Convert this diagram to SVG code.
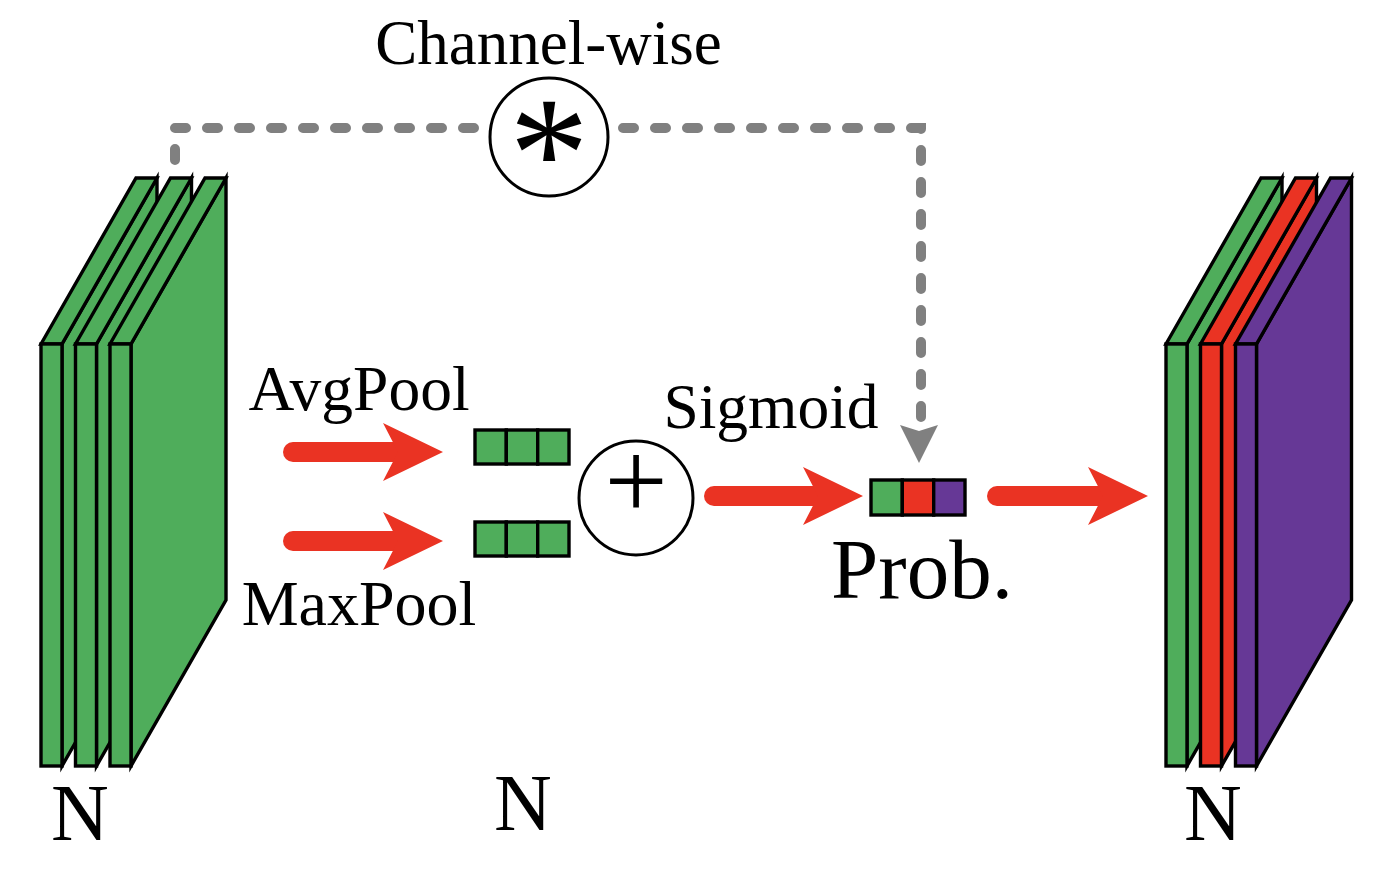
<svg xmlns="http://www.w3.org/2000/svg" width="1384" height="874" viewBox="0 0 1384 874">
<style>
.g{fill:#4FAD5B}.r{fill:#EA3323}.p{fill:#663896}
.s{stroke:#000;stroke-width:3.4;stroke-linejoin:miter}
.t{font-family:"Liberation Serif","Times New Roman",serif;fill:#000;text-anchor:middle}
.ra{stroke:#EA3323;stroke-width:20;stroke-linecap:round;fill:none}
.op{fill:#fff;stroke:#000;stroke-width:3}
</style>
<defs>
<marker id="rh" markerUnits="userSpaceOnUse" markerWidth="60" markerHeight="58" viewBox="0 0 60 58" refX="15" refY="29" orient="auto">
<path d="M0,0 L60,29 L0,58 L15,29 Z" fill="#EA3323"/>
</marker>
<g id="slab">
<polygon points="21,344 116,178 116,600 21,766" class="s"/>
<polygon points="0,344 95,178 116,178 21,344" class="s"/>
<rect x="0" y="344" width="21" height="422" class="s"/>
</g>
</defs>
<g id="connectors">
<path d="M175,160 L175,128 L921,128 L921,428" fill="none" stroke="#808080" stroke-width="10" stroke-linecap="round" stroke-dasharray="11 21"/>
<polygon points="900,425 919,431 938,425 919,463" fill="#808080"/>
<line x1="293" y1="452" x2="398" y2="452" class="ra" marker-end="url(#rh)"/>
<line x1="293" y1="541" x2="398" y2="541" class="ra" marker-end="url(#rh)"/>
<line x1="714" y1="496" x2="818" y2="496" class="ra" marker-end="url(#rh)"/>
<line x1="997" y1="496" x2="1103" y2="496" class="ra" marker-end="url(#rh)"/>
</g>
<g id="input-stack" class="g">
<use href="#slab" x="41"/>
<use href="#slab" x="75.5"/>
<use href="#slab" x="110"/>
</g>
<g id="output-stack">
<use href="#slab" x="1166" class="g"/>
<use href="#slab" x="1200.5" class="r"/>
<use href="#slab" x="1235.5" class="p"/>
</g>
<g id="avg-vector" class="s">
<rect x="475" y="430" width="31.3" height="34" class="g"/>
<rect x="506.3" y="430" width="31.4" height="34" class="g"/>
<rect x="537.7" y="430" width="31.3" height="34" class="g"/>
</g>
<g id="max-vector" class="s">
<rect x="475" y="522" width="31.3" height="34" class="g"/>
<rect x="506.3" y="522" width="31.4" height="34" class="g"/>
<rect x="537.7" y="522" width="31.3" height="34" class="g"/>
</g>
<g id="prob-vector" class="s">
<rect x="871" y="480" width="31.3" height="35" class="g"/>
<rect x="902.3" y="480" width="31.4" height="35" class="r"/>
<rect x="933.7" y="480" width="31.3" height="35" class="p"/>
</g>
<g id="add-op">
<circle cx="636" cy="498" r="57" class="op"/>
<text x="636" y="519" class="t" font-size="112">+</text>
</g>
<g id="mul-op">
<circle cx="549" cy="137" r="59" class="op"/>
<text x="549" y="207" class="t" font-size="160">*</text>
</g>
<g id="labels">
<text x="548.5" y="64" class="t" font-size="63">Channel-wise</text>
<text x="359" y="410" class="t" font-size="63.5">AvgPool</text>
<text x="359" y="625" class="t" font-size="64">MaxPool</text>
<text x="771" y="428" class="t" font-size="63.5">Sigmoid</text>
<text x="922" y="598" class="t" font-size="85">Prob.</text>
<text x="80" y="840" class="t" font-size="80">N</text>
<text x="523" y="830" class="t" font-size="80">N</text>
<text x="1213" y="840" class="t" font-size="80">N</text>
</g>
</svg>
